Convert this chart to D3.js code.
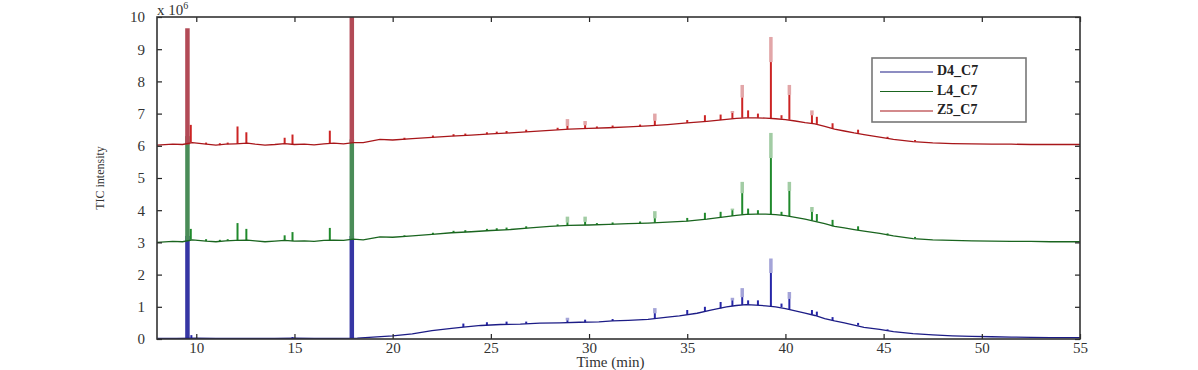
<!DOCTYPE html>
<html>
<head>
<meta charset="utf-8">
<script src="https://cdn.jsdelivr.net/npm/d3@7"></script>
<style>
  html, body { margin: 0; padding: 0; background: #fff; }
  svg { display: block; }
</style>
</head>
<body>
<svg width="1198" height="370"></svg>
<script>
// 시리즈 이름
const seriesNames = ["D4_C7", "L4_C7", "Z5_C7"];
const xTicks = [10, 15, 20, 25, 30, 35, 40, 45, 50, 55];
const yTicks = [0, 1, 2, 3, 4, 5, 6, 7, 8, 9, 10];

// 기준선 [시간, 강도(x10^6)]
const d4Base = [
  [8, 0.02], [9, 0.02], [10, 0.03], [11, 0.02], [12, 0.02], [13, 0.02], [14, 0.02],
  [15, 0.03], [16, 0.02], [17, 0.02], [18.2, 0.03], [19, 0.06], [20, 0.1], [21, 0.16],
  [22, 0.26], [23, 0.33], [23.6, 0.37], [24.5, 0.42], [25.5, 0.45], [26.5, 0.46],
  [27.5, 0.49], [28.5, 0.5], [29.5, 0.52], [30.5, 0.53], [31.2, 0.56], [32, 0.58],
  [33, 0.61], [34, 0.68], [34.6, 0.72], [35.5, 0.8], [36.2, 0.9], [37, 1.0], [37.5, 1.04],
  [38, 1.07], [38.5, 1.05], [39, 1.03], [39.5, 1.0], [40, 0.94], [40.5, 0.87], [41, 0.8],
  [41.5, 0.73], [42, 0.63], [42.5, 0.56], [43, 0.5], [43.5, 0.43], [44, 0.36], [44.8, 0.3],
  [45.5, 0.23], [46.5, 0.17], [47.5, 0.13], [48.5, 0.1], [49.5, 0.08], [50.5, 0.07],
  [51.5, 0.06], [52.5, 0.05], [53.5, 0.04], [55, 0.04]
];
const l4Base = [
  [8, 3.0], [8.8, 3.03], [9.3, 3.02], [9.8, 3.08], [10.5, 3.04], [11, 3.02], [11.5, 3.05],
  [12, 3.06], [12.6, 3.07], [13, 3.05], [13.5, 3.02], [14, 3.04], [14.5, 3.06], [15, 3.04],
  [15.5, 3.05], [16, 3.03], [16.5, 3.06], [17, 3.07], [17.5, 3.06], [18, 3.1], [18.5, 3.08],
  [19.35, 3.17], [20, 3.16], [21, 3.2], [22, 3.25], [23, 3.3], [24, 3.33], [25, 3.37],
  [26, 3.4], [27, 3.45], [28, 3.5], [29, 3.53], [30, 3.54], [31, 3.56], [32, 3.58],
  [33, 3.6], [34, 3.63], [35, 3.66], [36, 3.72], [37, 3.8], [37.5, 3.84], [38, 3.87],
  [38.5, 3.88], [39, 3.88], [39.5, 3.86], [40, 3.83], [40.5, 3.78], [41, 3.72],
  [41.5, 3.65], [42, 3.58], [42.5, 3.5], [43, 3.45], [43.5, 3.4], [44, 3.35], [44.8, 3.28],
  [45.5, 3.2], [46.5, 3.12], [47.5, 3.08], [48.5, 3.06], [49.5, 3.05], [50.5, 3.04],
  [51.5, 3.03], [52.5, 3.03], [53.5, 3.02], [55, 3.02]
];
const z5Base = [
  [8, 6.02], [8.8, 6.05], [9.3, 6.04], [9.8, 6.1], [10.5, 6.05], [11, 6.02], [11.5, 6.05],
  [12, 6.06], [12.6, 6.08], [13, 6.05], [13.5, 6.02], [14, 6.04], [14.5, 6.07], [15, 6.04],
  [15.5, 6.05], [16, 6.03], [16.5, 6.06], [17, 6.08], [17.5, 6.06], [18, 6.1], [18.5, 6.1],
  [19.35, 6.2], [20, 6.18], [21, 6.22], [22, 6.26], [23, 6.3], [24, 6.33], [25, 6.37],
  [26, 6.4], [27, 6.44], [28, 6.48], [29, 6.52], [30, 6.54], [31, 6.56], [32, 6.59],
  [33, 6.62], [34, 6.66], [35, 6.71], [36, 6.76], [37, 6.82], [37.5, 6.85], [38, 6.87],
  [38.5, 6.87], [39, 6.86], [39.5, 6.84], [40, 6.81], [40.5, 6.77], [41, 6.72],
  [41.5, 6.68], [42, 6.6], [42.5, 6.52], [43, 6.46], [43.5, 6.4], [44, 6.35], [44.8, 6.27],
  [45.5, 6.2], [46.5, 6.13], [47.5, 6.09], [48.5, 6.07], [49.5, 6.06], [50.5, 6.05],
  [51.5, 6.05], [52.5, 6.04], [53.5, 6.04], [55, 6.04]
];

// 피크 [시간, 기준, 진한 끝, 옅은 끝]
const d4Peaks = [
  [9.55, 0.03, 3.2, 3.2], [9.75, 0.03, 0.12, 0.12], [14.9, 0.03, 0.06, 0.06],
  [17.92, 0.03, 3.2, 3.2], [23.6, 0.37, 0.48, 0.48], [24.8, 0.43, 0.52, 0.52],
  [25.8, 0.45, 0.54, 0.54], [26.8, 0.47, 0.54, 0.54], [28.9, 0.51, 0.58, 0.66],
  [29.8, 0.52, 0.6, 0.6], [31.2, 0.56, 0.62, 0.62], [33.35, 0.63, 0.8, 0.96],
  [35.0, 0.76, 0.9, 0.9], [35.9, 0.86, 1.0, 1.0], [36.7, 0.95, 1.15, 1.15],
  [37.3, 1.02, 1.2, 1.28], [37.8, 1.06, 1.3, 1.58], [38.1, 1.07, 1.2, 1.2],
  [38.6, 1.05, 1.2, 1.2], [39.26, 1.02, 2.05, 2.5], [39.8, 0.99, 1.1, 1.1],
  [40.2, 0.92, 1.25, 1.46], [41.35, 0.76, 0.9, 0.9], [41.6, 0.72, 0.85, 0.85],
  [42.4, 0.58, 0.68, 0.68], [43.7, 0.42, 0.5, 0.5], [45.2, 0.26, 0.3, 0.3]
];
const l4Peaks = [
  [9.55, 3.04, 6.3, 6.3], [9.72, 3.08, 3.42, 3.42], [10.5, 3.04, 3.1, 3.1],
  [11.2, 3.02, 3.08, 3.08], [11.6, 3.05, 3.1, 3.1], [12.1, 3.06, 3.6, 3.6],
  [12.55, 3.07, 3.42, 3.42], [14.5, 3.06, 3.22, 3.22], [14.9, 3.04, 3.32, 3.32],
  [16.8, 3.07, 3.45, 3.45], [17.92, 3.1, 6.2, 6.2], [20.6, 3.17, 3.22, 3.22],
  [22.05, 3.25, 3.3, 3.3], [23.1, 3.3, 3.36, 3.36], [23.7, 3.32, 3.38, 3.38],
  [24.8, 3.36, 3.42, 3.42], [25.3, 3.38, 3.44, 3.44], [25.8, 3.39, 3.46, 3.46],
  [26.8, 3.44, 3.5, 3.5], [28.4, 3.51, 3.56, 3.56], [28.9, 3.53, 3.62, 3.8],
  [29.8, 3.54, 3.64, 3.8], [30.4, 3.55, 3.6, 3.6], [31.2, 3.56, 3.62, 3.62],
  [32.6, 3.59, 3.65, 3.65], [33.35, 3.61, 3.75, 3.97], [35.0, 3.66, 3.76, 3.76],
  [35.9, 3.71, 3.92, 3.92], [36.7, 3.77, 3.95, 3.95], [37.3, 3.82, 4.0, 4.05],
  [37.8, 3.86, 4.53, 4.88], [38.1, 3.87, 4.05, 4.05], [38.6, 3.88, 4.0, 4.0],
  [39.26, 3.87, 5.62, 6.4], [39.8, 3.85, 3.95, 3.95], [40.2, 3.82, 4.6, 4.88],
  [41.35, 3.68, 3.95, 4.1], [41.6, 3.65, 3.88, 3.88], [42.4, 3.5, 3.7, 3.7],
  [43.7, 3.38, 3.5, 3.5], [45.2, 3.22, 3.28, 3.28], [46.6, 3.12, 3.17, 3.17]
];
const z5Peaks = [
  [9.55, 6.04, 9.65, 9.65], [9.72, 6.1, 6.65, 6.65], [10.5, 6.05, 6.1, 6.1],
  [11.2, 6.02, 6.08, 6.08], [11.6, 6.05, 6.1, 6.1], [12.1, 6.06, 6.6, 6.6],
  [12.55, 6.08, 6.42, 6.42], [14.5, 6.07, 6.25, 6.25], [14.9, 6.04, 6.35, 6.35],
  [16.8, 6.08, 6.47, 6.47], [17.92, 6.1, 10.5, 10.5], [20.6, 6.19, 6.25, 6.25],
  [22.05, 6.26, 6.32, 6.32], [23.1, 6.3, 6.36, 6.36], [23.7, 6.32, 6.38, 6.38],
  [24.8, 6.36, 6.42, 6.42], [25.3, 6.38, 6.44, 6.44], [25.8, 6.39, 6.46, 6.46],
  [26.8, 6.43, 6.5, 6.5], [28.4, 6.5, 6.56, 6.56], [28.9, 6.52, 6.62, 6.83],
  [29.8, 6.54, 6.64, 6.77], [30.4, 6.55, 6.6, 6.6], [31.2, 6.56, 6.63, 6.63],
  [32.6, 6.6, 6.66, 6.66], [33.35, 6.63, 6.78, 7.0], [35.0, 6.71, 6.8, 6.8],
  [35.9, 6.76, 6.95, 6.95], [36.7, 6.8, 6.97, 6.97], [37.3, 6.84, 7.02, 7.08],
  [37.8, 6.87, 7.5, 7.89], [38.1, 6.87, 7.1, 7.1], [38.6, 6.87, 7.0, 7.0],
  [39.26, 6.86, 8.6, 9.38], [39.8, 6.84, 6.95, 6.95], [40.2, 6.81, 7.58, 7.89],
  [41.35, 6.7, 6.95, 7.1], [41.6, 6.68, 6.9, 6.9], [42.4, 6.54, 6.7, 6.7],
  [43.7, 6.4, 6.5, 6.5], [45.2, 6.22, 6.28, 6.28], [46.6, 6.13, 6.18, 6.18]
];

const lineColors = ["#1c1c86", "#1a651f", "#a8161a"];
const coreColors = ["#2626a8", "#208a2c", "#cc2424"];
const lightColors = ["#a4a4d8", "#a2cca4", "#e2a6a8"];
const barColors = ["#3636a4", "#4a8c58", "#b24a56"];

renderChart();

function renderChart() {
  const svg = d3.select("svg");
  const margin = { left: 157, right: 1080, top: 17, bottom: 339 };

  const x = d3.scaleLinear().domain([8, 55]).range([margin.left, margin.right]);
  const y = d3.scaleLinear().domain([0, 10]).range([margin.bottom, margin.top]);

  // 플롯 영역 클립
  svg.append("clipPath").attr("id", "plot")
    .append("rect")
    .attr("x", margin.left).attr("y", margin.top)
    .attr("width", margin.right - margin.left)
    .attr("height", margin.bottom - margin.top);

  const plot = svg.append("g").attr("clip-path", "url(#plot)");
  const line = d3.line().x((d) => x(d[0])).y((d) => y(d[1]));

  const bases = [d4Base, l4Base, z5Base];
  const peaks = [d4Peaks, l4Peaks, z5Peaks];

  bases.forEach((base, i) => {
    const g = plot.append("g");

    // 큰 피크 (옅은 윗부분 + 진한 아랫부분)
    g.selectAll("line.light")
      .data(peaks[i])
      .enter()
      .append("line")
      .attr("x1", (d) => x(d[0])).attr("x2", (d) => x(d[0]))
      .attr("y1", (d) => y(d[2])).attr("y2", (d) => y(d[3]))
      .attr("stroke", lightColors[i])
      .attr("stroke-width", 3.5);

    g.selectAll("line.core")
      .data(peaks[i])
      .enter()
      .append("line")
      .attr("x1", (d) => x(d[0])).attr("x2", (d) => x(d[0]))
      .attr("y1", (d) => y(d[1])).attr("y2", (d) => y(d[2]))
      .attr("stroke", (d) => (d[2] - d[1] > 2.5 ? barColors[i] : coreColors[i]))
      .attr("stroke-width", (d) => (d[2] - d[1] > 2.5 ? 4.5 : 2));

    g.append("path")
      .datum(base)
      .attr("d", line)
      .attr("fill", "none")
      .attr("stroke", lineColors[i])
      .attr("stroke-width", 1.3);
  });

  // 축 (안쪽 눈금)
  const font = "'Liberation Serif', 'Times New Roman', serif";
  const styleAxis = (g) => {
    g.select(".domain").remove();
    g.selectAll("line").attr("stroke", "#222").attr("stroke-width", 1.2);
    g.selectAll("text").style("font-family", font).style("font-size", "15px").attr("fill", "#333");
  };

  svg.append("g")
    .attr("transform", `translate(0, ${margin.bottom})`)
    .call(d3.axisBottom(x).tickValues(xTicks).tickSize(-5).tickPadding(3))
    .call(styleAxis);
  svg.append("g")
    .attr("transform", `translate(0, ${margin.top})`)
    .call(d3.axisTop(x).tickValues(xTicks).tickSize(-5).tickFormat(""))
    .call(styleAxis);
  svg.append("g")
    .attr("transform", `translate(${margin.left}, 0)`)
    .call(d3.axisLeft(y).tickValues(yTicks).tickSize(-5).tickPadding(12))
    .call(styleAxis);
  svg.append("g")
    .attr("transform", `translate(${margin.right}, 0)`)
    .call(d3.axisRight(y).tickValues(yTicks).tickSize(-5).tickFormat(""))
    .call(styleAxis);

  // 테두리
  svg.append("rect")
    .attr("x", margin.left).attr("y", margin.top)
    .attr("width", margin.right - margin.left)
    .attr("height", margin.bottom - margin.top)
    .attr("fill", "none")
    .attr("stroke", "#333")
    .attr("stroke-width", 1.6);

  // 축 제목
  svg.append("text")
    .attr("x", (margin.left + margin.right) / 2 - 8)
    .attr("y", 367)
    .attr("text-anchor", "middle")
    .style("font-family", font).style("font-size", "15px")
    .attr("fill", "#333")
    .text("Time (min)");

  svg.append("text")
    .attr("transform", `translate(104, 178) rotate(-90)`)
    .attr("text-anchor", "middle")
    .style("font-family", font).style("font-size", "12px")
    .attr("fill", "#333")
    .text("TIC intensity");

  const exp = svg.append("text")
    .attr("x", margin.left)
    .attr("y", 15)
    .style("font-family", font).style("font-size", "15px")
    .attr("fill", "#333");
  exp.append("tspan").text("x 10");
  exp.append("tspan").attr("dy", -6).style("font-size", "10px").text("6");

  // 범례
  const legend = svg.append("g").attr("transform", "translate(872, 58)");
  legend.append("rect")
    .attr("width", 154).attr("height", 64)
    .attr("fill", "#fff")
    .attr("stroke", "#777")
    .attr("stroke-width", 1.6);

  seriesNames.forEach((name, i) => {
    const ly = 14 + i * 19.5;
    legend.append("line")
      .attr("x1", 8).attr("x2", 61)
      .attr("y1", ly).attr("y2", ly)
      .attr("stroke", lineColors[i])
      .attr("stroke-width", 1.2);
    legend.append("text")
      .attr("x", 65).attr("y", ly)
      .attr("dominant-baseline", "middle")
      .style("font-family", font).style("font-size", "14px")
      .style("font-weight", "bold")
      .attr("fill", "#222")
      .text(name);
  });
}
</script>
</body>
</html>
